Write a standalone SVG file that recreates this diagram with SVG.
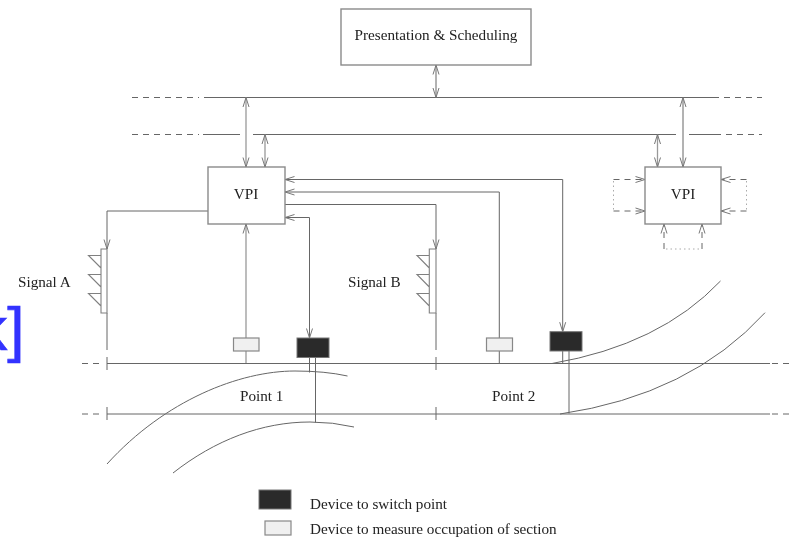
<svg xmlns="http://www.w3.org/2000/svg" width="796" height="538" viewBox="0 0 796 538">
<style>
text{font-family:"Liberation Serif","Times New Roman",serif;font-size:15.2px;fill:#222}
.box{fill:#fff;stroke:#8a8a8a;stroke-width:1.4}
.dark{fill:#2a2a2a;stroke:#777;stroke-width:1}
.light{fill:#f0f0f0;stroke:#888;stroke-width:1.2}
.ln{fill:none;stroke:#666;stroke-width:1}
.g{fill:none;stroke:#999;stroke-width:1.3}
.sig{fill:none;stroke:#808080;stroke-width:1.1}
.dash{fill:none;stroke:#666;stroke-width:1;stroke-dasharray:6 5}
.dot{fill:none;stroke:#aaa;stroke-width:1;stroke-dasharray:1.5 3}
.a{marker-end:url(#h)}
.b{marker-start:url(#h);marker-end:url(#h)}
</style>
<defs>
<marker id="h" markerUnits="userSpaceOnUse" markerWidth="12" markerHeight="8" refX="10" refY="4" orient="auto-start-reverse">
<path d="M0.500 1 L10 4 L0.500 7" fill="none" stroke="#777" stroke-width="1"/>
</marker>
<filter id="soft" filterUnits="userSpaceOnUse" x="0" y="0" width="796" height="538"><feGaussianBlur stdDeviation="0.35"/></filter>
</defs>
<g filter="url(#soft)">
<text x="24.500" y="350" text-anchor="end" style="font-family:'Liberation Sans',Arial,sans-serif;font-size:62px;fill:#3333ff;stroke:#3333ff;stroke-width:0.6">k]</text>
<g id="connectors">
<path class="dash" d="M132 97.500H199M724 97.500H762M132 134.500H199M726 134.500H762"/>
<path class="ln" d="M204 97.500H719M203 134.500H240M253 134.500H676M689 134.500H721"/>
<path class="ln b" d="M436 65V97.500"/>
<path class="g b" d="M246 97.500V167"/>
<path class="g b" d="M265 134.500V167"/>
<path class="g b" d="M657.500 134.500V167"/>
<path class="ln b" d="M683 97.500V167"/>
<path class="ln a" d="M208 211H107V249"/>
<path class="g a" d="M246 338V224"/>
<path class="g" d="M246 351V363.500"/>
<path class="ln b" d="M309.500 338V217.500H285"/>
<path class="ln b" d="M562.700 331.700V179.500H285"/>
<path class="ln a" d="M499.300 338V192H285"/>
<path class="ln" d="M499.300 351V363.500"/>
<path class="ln a" d="M285 204.500H436V249"/>
<path class="ln" d="M107 313V350M436 313V350M107 357V370M436 357V370M107 407V420M436 407V420"/>
<path class="dash" d="M82 363.500H104M82 414H104M772 363.500H792M772 414H792"/>
<path class="ln" d="M107 363.500H770M107 414H770"/>
<path class="ln" d="M309.500 357V372.500M315.500 357V422.500M562.700 351V363.500M569 351V413.500"/>
<path class="ln" d="M107 464C165 400 240 371 295 371Q325 371 347.500 376"/>
<path class="ln" d="M173 473C215 440 262 422 310 422Q333 422 354 427"/>
<path class="ln" d="M552 363.500Q660 345 720.500 281"/>
<path class="ln" d="M560 414Q690 395 765 312.700"/>
<path class="dash a" d="M613.500 179.500H645"/>
<path class="dash a" d="M613.500 211H645"/>
<path class="dash a" d="M746.500 179.500H721"/>
<path class="dash a" d="M746.500 211H721"/>
<path class="dash a" d="M664 249V224"/>
<path class="dash a" d="M702 249V224"/>
<path class="dot" d="M613.500 181V210M746.500 181V210M666 249H700"/>
</g>
<g id="presentation"><rect class="box" x="341" y="9" width="190" height="56"/><text x="436" y="40" text-anchor="middle">Presentation &amp; Scheduling</text></g>
<g id="vpi-1"><rect class="box" x="208" y="167" width="77" height="57"/><text x="246" y="199" text-anchor="middle">VPI</text></g>
<g id="vpi-2"><rect class="box" x="645" y="167" width="76" height="57"/><text x="683" y="199" text-anchor="middle">VPI</text></g>
<g id="signal-a"><path class="sig" d="M101 249H107V313H101ZM101 255.500H88.500L101 268M101 274.500H88.500L101 287M101 293.500H88.500L101 306"/><text x="18" y="287">Signal A</text></g>
<g id="signal-b"><path class="sig" d="M429.300 249H436V313H429.300ZM429.300 255.500H417L429.300 268M429.300 274.500H417L429.300 287M429.300 293.500H417L429.300 306"/><text x="348" y="287">Signal B</text></g>
<g id="occ-1"><rect class="light" x="233.500" y="338" width="25.500" height="13"/></g>
<g id="switch-1"><rect class="dark" x="297" y="338" width="32" height="19.500"/></g>
<g id="occ-2"><rect class="light" x="486.500" y="338" width="26" height="13"/></g>
<g id="switch-2"><rect class="dark" x="550" y="331.700" width="32" height="19.300"/></g>
<g id="point-1"><text x="240" y="401">Point 1</text></g>
<g id="point-2"><text x="492" y="401">Point 2</text></g>
<g id="legend-switch"><rect class="dark" x="259" y="490" width="32" height="19"/><text x="310" y="509">Device to switch point</text></g>
<g id="legend-occ"><rect class="light" x="265" y="521" width="26" height="14"/><text x="310" y="534">Device to measure occupation of section</text></g>
</g>
</svg>
